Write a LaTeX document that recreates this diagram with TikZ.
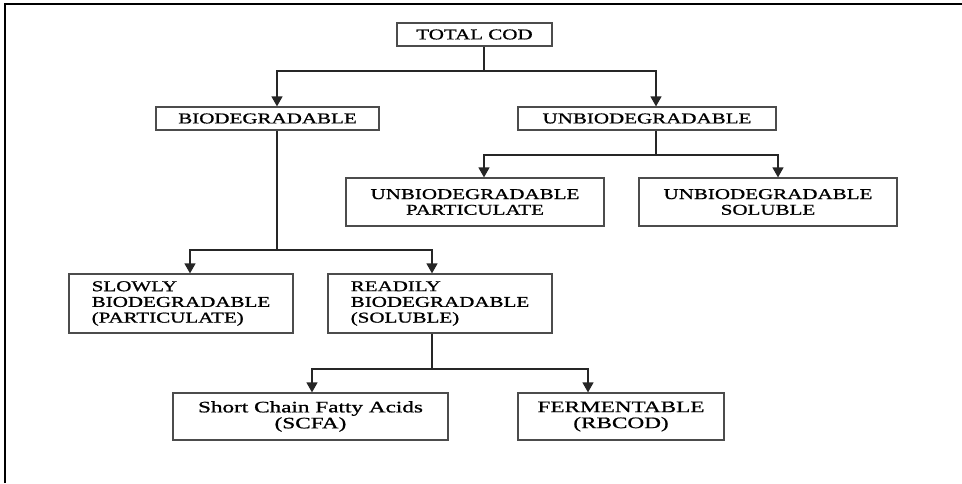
\documentclass[tikz,border=0pt]{standalone}
\usepackage{fontspec}
\newfontfamily\boxfont[FakeStretch=1.4,FakeBold=1]{Liberation Serif}
\newfontfamily\lowfont[FakeStretch=1.45,FakeBold=1]{Liberation Serif}
\usetikzlibrary{calc}
\usetikzlibrary{arrows.meta}
\tikzset{
  box/.style={draw=black!70, line width=1.2pt, inner sep=0pt, align=center,
    font=\boxfont\fontsize{15}{15.7}\selectfont},
  lowbox/.style={box, font=\lowfont\fontsize{16}{16}\selectfont},
  link/.style={black!85, line width=1.3pt},
  arr/.style={link, -{Triangle[width=11pt,length=10pt]}},
}

\begin{document}
\begin{tikzpicture}[x=1pt,y=-1pt]
\useasboundingbox (0,0) rectangle (962,483);

\draw[line width=2.5pt] (5,483) -- (5,4) -- (962,4);

\node[box, minimum width=155pt, minimum height=23pt] (total) at (474.5,34.5) {TOTAL COD};
\node[box, minimum width=223pt, minimum height=23pt] (bio) at (267.5,118.5) {BIODEGRADABLE};
\node[box, minimum width=258pt, minimum height=23pt] (unbio) at (647,118.5) {UNBIODEGRADABLE};
\node[box, minimum width=258pt, minimum height=48pt] (upart) at (475,202) {UNBIODEGRADABLE\\PARTICULATE};
\node[box, minimum width=258pt, minimum height=48pt] (usol) at (768,202) {UNBIODEGRADABLE\\SOLUBLE};
\node[box, align=left, minimum width=224pt, minimum height=59pt] (slow) at (181,303.5) {SLOWLY\\BIODEGRADABLE\\(PARTICULATE)};
\node[box, align=left, minimum width=224pt, minimum height=59pt] (ready) at (440,303.5) {READILY\\BIODEGRADABLE\\(SOLUBLE)};
\node[lowbox, minimum width=275pt, minimum height=47pt] (scfa) at (310.5,416.5) {Short Chain Fatty Acids\\(SCFA)};
\node[lowbox, minimum width=206pt, minimum height=47pt] (ferm) at (621,416.5) {FERMENTABLE\\(RBCOD)};

\coordinate (j1) at (484,71);
\coordinate (j2) at (656,155);
\coordinate (j3) at (277,250);
\coordinate (j4) at (432,369);

\draw[link] ([xshift=9.5pt]total.south) -- (j1);
\draw[arr] (j1) -| ([xshift=9.5pt]bio.north);
\draw[arr] (j1) -| ([xshift=9pt]unbio.north);

\draw[link] ([xshift=9pt]unbio.south) -- (j2);
\draw[arr] (j2) -| ([xshift=9pt]upart.north);
\draw[arr] (j2) -| ([xshift=10pt]usol.north);

\draw[link] ([xshift=9.5pt]bio.south) -- (j3);
\draw[arr] (j3) -| ([xshift=9pt]slow.north);
\draw[arr] (j3) -| ([xshift=-8pt]ready.north);

\draw[link] ([xshift=-8pt]ready.south) -- (j4);
\draw[arr] (j4) -| ([xshift=1.5pt]scfa.north);
\draw[arr] (j4) -| ([xshift=-33pt]ferm.north);
\end{tikzpicture}
\end{document}
